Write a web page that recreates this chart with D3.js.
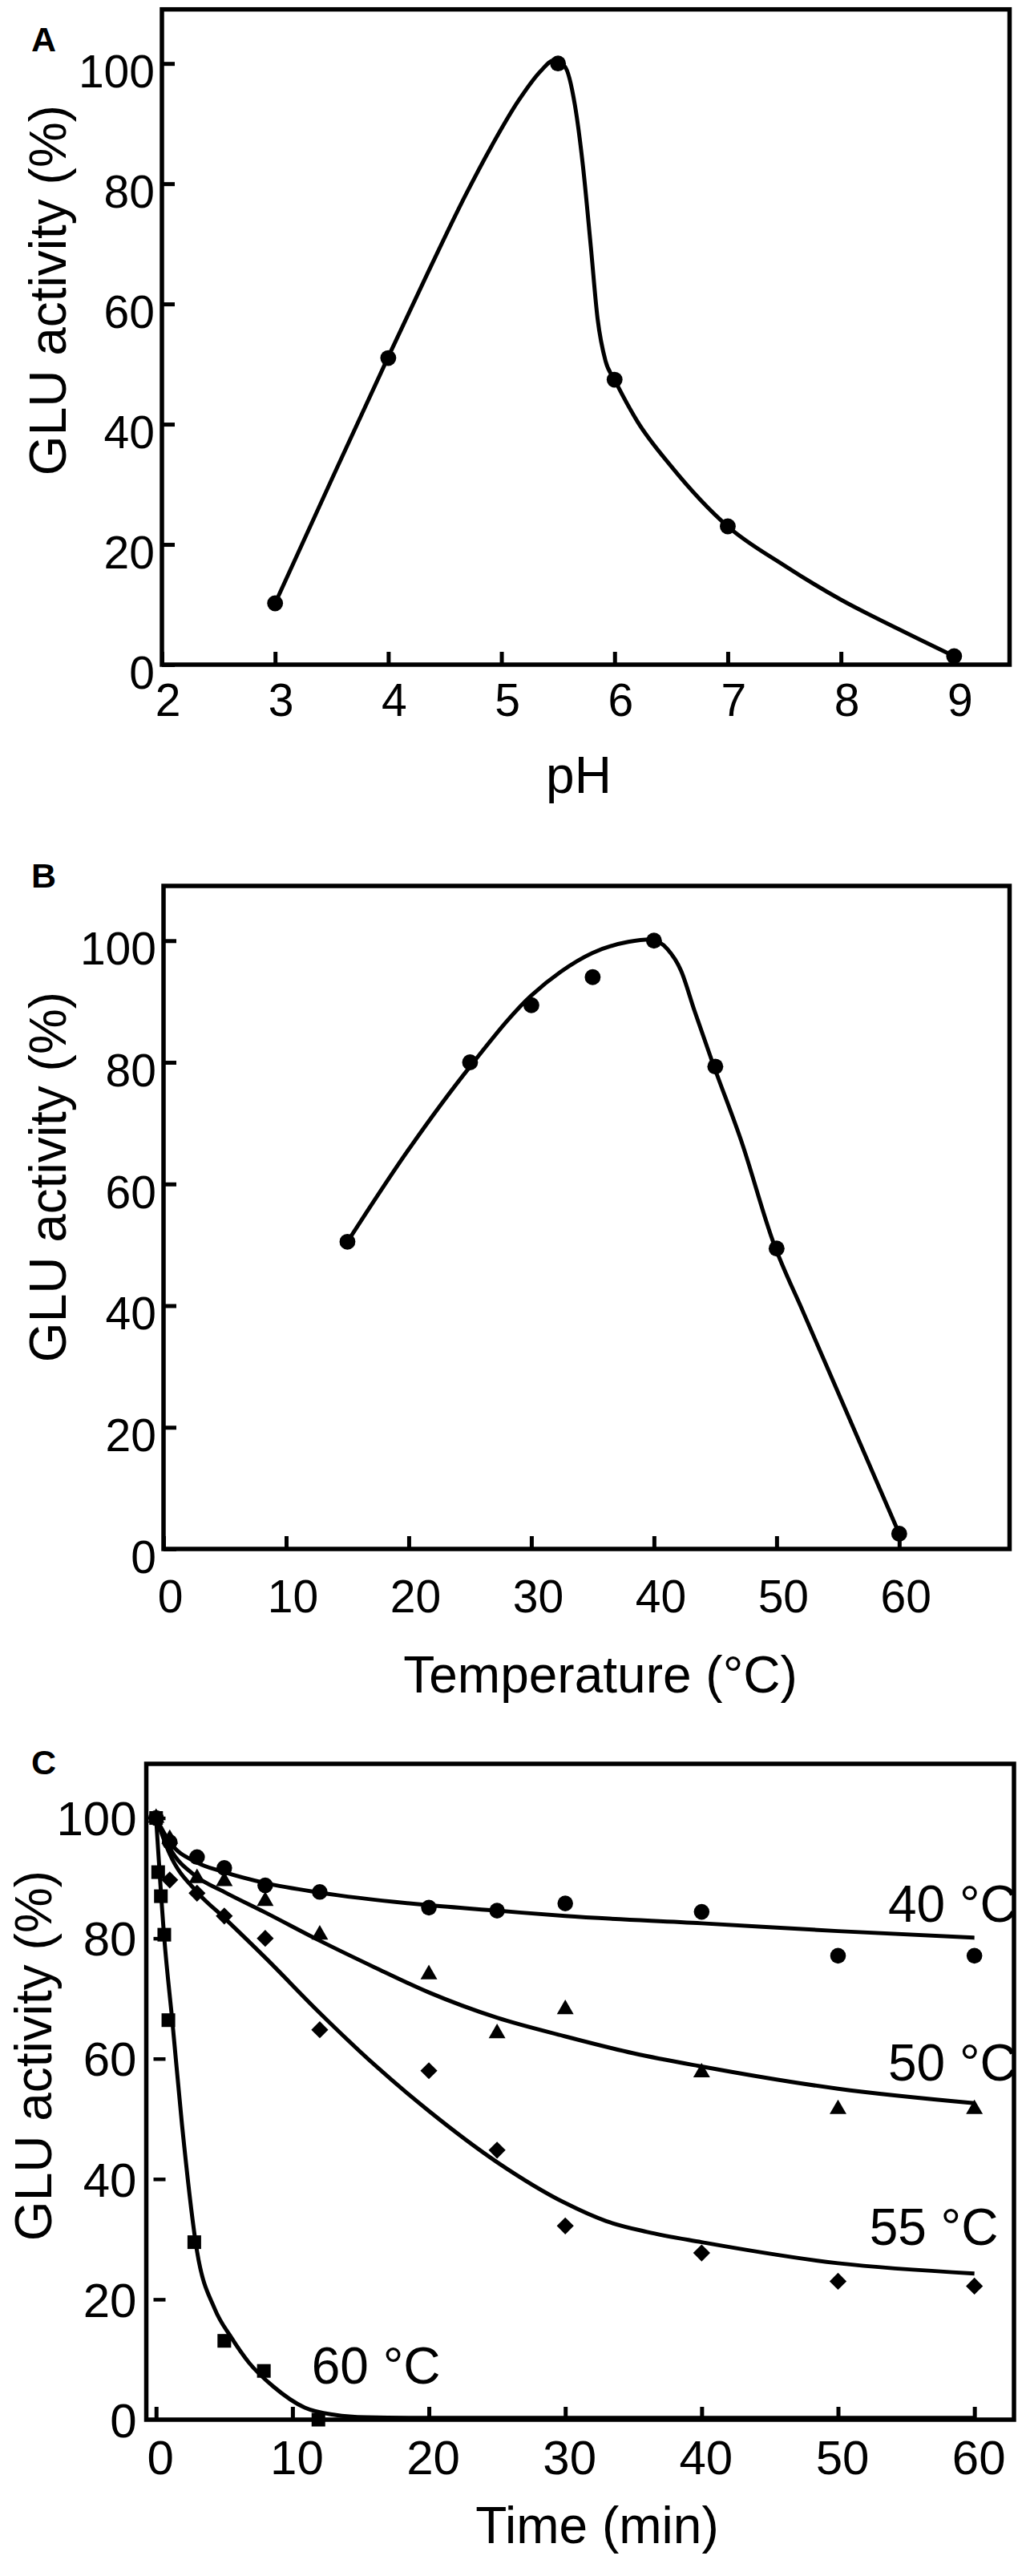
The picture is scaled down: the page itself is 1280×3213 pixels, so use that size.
<!DOCTYPE html>
<html>
<head>
<meta charset="utf-8">
<script src="https://cdn.jsdelivr.net/npm/d3@7"></script>
<style>
  body { margin: 0; background: #fff; }
  svg { display: block; font-family: "Liberation Sans", Arial, sans-serif; }
</style>
</head>
<body>
<script>
// ---- panel A: pH ----
const phValues = [3, 4, 5.5, 6, 7, 9];
const phActivity = [10.2, 51.0, 100, 47.4, 23, 1.4];
// fitted curve
const phCurveX = [3, 3.5, 4, 4.35, 4.68, 4.92, 5.15, 5.35, 5.46, 5.56, 5.65, 5.72, 5.79, 5.85, 5.92, 6, 6.2, 6.5, 7, 7.5, 8, 8.5, 9];
const phCurveY = [10.2, 30.8, 51.2, 65.2, 78, 86.5, 93.8, 98.8, 100.5, 99.5, 93, 83, 69.5, 57.5, 50.5, 47.4, 40.5, 33, 23, 16.5, 10.8, 6, 1.4];
const phTicks = [2, 3, 4, 5, 6, 7, 8, 9];

// ---- panel B: temperature ----
const tempValues = [15, 25, 30, 35, 40, 45, 50, 60];
const tempActivity = [50.5, 80, 89.4, 94, 100, 79.3, 49.4, 2.5];
const tempCurveX = [15, 20, 25, 30, 32.4, 35, 37.9, 39.7, 41.1, 42.2, 43.3, 44.7, 47.2, 49.7, 52.2, 55, 60];
const tempCurveY = [50.5, 65.7, 79.3, 91, 94.9, 98, 99.8, 100.2, 98.6, 95.1, 88.5, 80.4, 66.6, 50.6, 38.8, 25.8, 2.5];
const tempTicks = [0, 10, 20, 30, 40, 50, 60];

// ---- panel C: thermal stability ----
const timeTicks = [0, 10, 20, 30, 40, 50, 60];
const time40 = [0, 1, 3, 5, 8, 12, 20, 25, 30, 40, 50, 60];
const act40 = [100, 96, 93.5, 91.7, 88.8, 87.7, 85.1, 84.6, 85.8, 84.4, 77.1, 77.1];
const time50 = [0, 1, 3, 5, 8, 12, 20, 25, 30, 40, 50, 60];
const act50 = [100, 96.5, 90, 89.5, 86.2, 80.6, 74, 64.2, 68.2, 57.7, 51.6, 51.6];
const time55 = [0, 1, 3, 5, 8, 12, 20, 25, 30, 40, 50, 60];
const act55 = [100, 89.7, 87.5, 83.7, 80, 64.8, 58, 44.8, 32.2, 27.7, 23, 22.2];
const time60 = [0, 0.15, 0.35, 0.6, 0.9, 2.8, 5, 7.9, 11.9];
const act60 = [100, 91, 87, 80.6, 66.4, 29.5, 13.1, 8.1, 0];

const fit40X = [0, 1, 3, 5, 8, 12, 20, 25, 30, 40, 50, 60];
const fit40Y = [100, 96, 92.6, 91, 89.2, 87.6, 85.5, 84.6, 83.7, 82.5, 81.2, 80.1];
const fit50X = [0, 1, 3, 5, 8, 12, 16, 20, 25, 30, 35, 40, 50, 60];
const fit50Y = [100, 95, 90.2, 87.7, 84.3, 79.6, 75.2, 71, 66.8, 63.7, 60.9, 58.7, 55, 52.6];
const fit55X = [0, 1, 3, 5, 8, 12, 16, 20, 25, 30, 33, 36, 40, 50, 60];
const fit55Y = [100, 94, 87.7, 83.4, 76.8, 67.6, 59, 51.3, 42.8, 36, 33, 31.2, 29.5, 26, 24.3];
const fit60X = [0, 0.6, 1.2, 1.9, 3, 4.3, 5.5, 6.8, 8.6, 10.9, 13.1, 15.4, 20, 30, 60];
const fit60Y = [100, 80, 66, 49, 28, 18.4, 13.7, 9.5, 5.5, 2, 0.8, 0.4, 0.3, 0.3, 0.3];

const seriesLabels = ["40 \u00B0C", "50 \u00B0C", "55 \u00B0C", "60 \u00B0C"];
const yTicks = [0, 20, 40, 60, 80, 100];

const zip = (xs, ys) => xs.map((v, i) => [v, ys[i]]);

const svg = d3.select("body").append("svg")
  .attr("width", 1280)
  .attr("height", 3213)
  .attr("viewBox", [0, 0, 1280, 3213]);

svg.append("rect").attr("width", 1280).attr("height", 3213).attr("fill", "#fff");

function panel(o) {
  const x = d3.scaleLinear().domain(o.xDomain).range([o.left, o.right]);
  const y = d3.scaleLinear().domain([0, 109]).range([o.bottom, o.top]);
  const g = svg.append("g");

  // x axis: inward ticks
  g.append("g")
    .attr("transform", `translate(0,${o.bottom})`)
    .call(d3.axisBottom(x).tickValues(o.xTicks).tickSize(-16).tickPadding(o.xPad).tickSizeOuter(0))
    .call(a => a.select(".domain").remove())
    .call(a => a.selectAll("line").attr("stroke", "#000").attr("stroke-width", 5))
    .call(a => a.selectAll("text").attr("fill", "#000").attr("font-size", o.tickFont)
      .attr("font-family", "Liberation Sans, Arial, sans-serif").attr("dx", o.xDx));

  // y axis
  g.append("g")
    .attr("transform", `translate(${o.left},0)`)
    .call(d3.axisLeft(y).tickValues(yTicks).tickSize(o.yInner ? -16 : 0).tickPadding(o.yPad).tickSizeOuter(0))
    .call(a => a.select(".domain").remove())
    .call(a => a.selectAll("line").attr("stroke", "#000").attr("stroke-width", 5))
    .call(a => a.selectAll("text").attr("fill", "#000").attr("font-size", o.tickFont)
      .attr("font-family", "Liberation Sans, Arial, sans-serif").attr("y", o.yDy));

  if (!o.yInner) {
    // detached dash ticks inside the frame
    g.append("g")
      .attr("transform", `translate(${o.left + 9},0)`)
      .call(d3.axisRight(y).tickValues(yTicks.slice(1)).tickSize(15).tickFormat(""))
      .call(a => a.select(".domain").remove())
      .call(a => a.selectAll("line").attr("stroke", "#000").attr("stroke-width", 4.5));
  }

  g.append("rect")
    .attr("x", o.left).attr("y", o.top)
    .attr("width", o.right - o.left).attr("height", o.bottom - o.top)
    .attr("fill", "none").attr("stroke", "#000").attr("stroke-width", 5.5);

  // axis titles and panel letter
  g.append("text")
    .attr("transform", `translate(${o.yTitleX},${o.yTitleY}) rotate(-90)`)
    .attr("text-anchor", "middle").attr("font-size", 64)
    .text("GLU activity (%)");
  g.append("text")
    .attr("x", o.xTitleX).attr("y", o.xTitleY)
    .attr("text-anchor", "middle").attr("font-size", 64)
    .text(o.xTitle);
  g.append("text")
    .attr("x", 39).attr("y", o.letterY)
    .attr("font-size", 43).attr("font-weight", "bold")
    .text(o.letter);

  return { x, y, g };
}

const line = (x, y) => d3.line().x(d => x(d[0])).y(d => y(d[1])).curve(d3.curveMonotoneX);

function drawCurve(p, pts) {
  p.g.append("path")
    .datum(pts)
    .attr("fill", "none").attr("stroke", "#000").attr("stroke-width", 5)
    .attr("stroke-linejoin", "round")
    .attr("d", line(p.x, p.y));
}

function drawMarks(p, pts, type, size, rot) {
  p.g.append("g").selectAll("path")
    .data(pts)
    .join("path")
      .attr("transform", d => `translate(${p.x(d[0])},${p.y(d[1])})${rot ? " rotate(45)" : ""}`)
      .attr("d", d3.symbol().type(type).size(size))
      .attr("fill", "#000");
}

// ---- A ----
const pA = panel({
  left: 202, right: 1259.5, top: 11.7, bottom: 829,
  xDomain: [2, 9.49], xTicks: phTicks, xPad: 24, xDx: 7, yPad: 9, yDy: 11, yInner: true,
  tickFont: 57, yTitleX: 82, yTitleY: 362, xTitle: "pH", xTitleX: 722, xTitleY: 989,
  letter: "A", letterY: 64
});
drawCurve(pA, zip(phCurveX, phCurveY));
drawMarks(pA, zip(phValues, phActivity), d3.symbolCircle, 310);

// ---- B ----
const pB = panel({
  left: 204, right: 1259.5, top: 1105, bottom: 1932,
  xDomain: [0, 69], xTicks: tempTicks, xPad: 39, xDx: 8, yPad: 9, yDy: 11, yInner: true,
  tickFont: 57, yTitleX: 82, yTitleY: 1468, xTitle: "Temperature (\u00B0C)", xTitleX: 749, xTitleY: 2111,
  letter: "B", letterY: 1107
});
drawCurve(pB, zip(tempCurveX, tempCurveY));
drawMarks(pB, zip(tempValues, tempActivity), d3.symbolCircle, 310);

// ---- C ----
const pC = panel({
  left: 182.5, right: 1265, top: 2200, bottom: 3018,
  xDomain: [-0.72, 62.9], xTicks: timeTicks, xPad: 25, xDx: 5, yPad: 12, yDy: 2, yInner: false,
  tickFont: 60, yTitleX: 64, yTitleY: 2564, xTitle: "Time (min)", xTitleX: 745, xTitleY: 3172,
  letter: "C", letterY: 2213
});
drawCurve(pC, zip(fit40X, fit40Y));
drawCurve(pC, zip(fit50X, fit50Y));
drawCurve(pC, zip(fit55X, fit55Y));
drawCurve(pC, zip(fit60X, fit60Y));
drawMarks(pC, zip(time40, act40), d3.symbolCircle, 300);
drawMarks(pC, zip(time50, act50), d3.symbolTriangle, 190);
drawMarks(pC, zip(time55, act55), d3.symbolSquare, 225, true);
drawMarks(pC, zip(time60, act60), d3.symbolSquare, 290);

// label anchors in data units (time, activity)
const labelT = [53.67, 53.67, 52.3, 11.4];
const labelV = [82.7, 56.4, 29.1, 6.0];
pC.g.append("g").selectAll("text")
  .data(seriesLabels)
  .join("text")
    .attr("x", (d, i) => pC.x(labelT[i]))
    .attr("y", (d, i) => pC.y(labelV[i]))
    .attr("font-size", 64)
    .text(d => d);
</script>
</body>
</html>
